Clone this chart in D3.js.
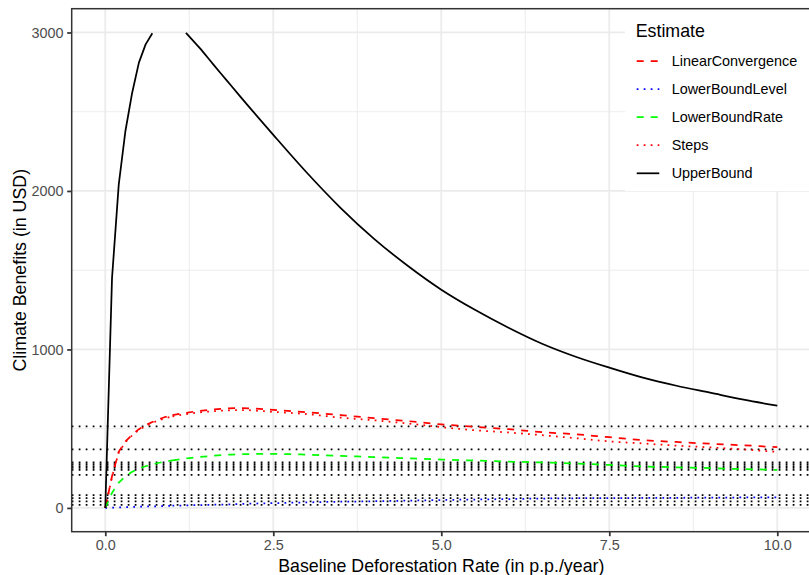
<!DOCTYPE html>
<html>
<head>
<meta charset="utf-8">
<script src="https://cdn.jsdelivr.net/npm/d3@7"></script>
<style>
  html, body { margin: 0; padding: 0; background: #fff; }
  svg { display: block; font-family: "Liberation Sans", Arial, Helvetica, sans-serif; }
</style>
</head>
<body>
<svg id="chart" width="809" height="575"></svg>
<script>
// Baseline deforestation rate grid (p.p./year)
const rates = [0, 0.1, 0.2, 0.3, 0.4, 0.5, 0.6, 0.7, 0.8, 0.9, 1.0,
               1.2, 1.4, 1.6, 1.8, 2.0,
               2.5, 3.0, 3.5, 4.0, 4.5, 5.0, 5.5, 6.0, 6.5, 7.0, 7.5, 8.0, 8.5, 9.0, 9.5, 10.0];

// Climate benefits per estimate (USD); null = beyond the 3000 cap
const linearConvergence = [0, 200, 355, 420, 462, 497, 522, 542, 560, 575, 585,
                           600, 612, 621, 627, 630,
                           619, 604, 586, 566, 548, 527, 512, 497, 478, 465, 446, 428, 416, 405, 395, 383];
const lowerBoundLevel = [0, 2, 3, 5, 6, 8, 9, 10, 11, 12, 14,
                         16, 18, 20, 22, 25,
                         30, 35, 39, 42, 46, 50, 53, 56, 59, 61, 62, 63, 64, 65, 66, 67];
const lowerBoundRate = [0, 95, 160, 200, 228, 248, 263, 275, 285, 293, 300,
                        312, 321, 329, 335, 339,
                        341, 336, 328, 321, 313, 305, 299, 292, 287, 280, 271, 262, 256, 251, 245, 240];
const steps = [0, 195, 350, 415, 458, 492, 517, 537, 553, 567, 577,
               592, 603, 610, 615, 618,
               606, 592, 570, 553, 533, 510, 490, 476, 459, 440, 420, 407, 393, 382, 369, 353];
const upperBound = [0, 1450, 2040, 2380, 2620, 2810, 2925, 2995, null, null, null,
                    2998, 2904, 2802, 2701, 2600,
                    2354, 2115, 1894, 1698, 1528, 1377, 1250, 1137, 1036, 954, 885, 822, 771, 727, 683, 645];

// Reference levels drawn as dotted horizontal lines
const referenceLevels = [514, 370, 288, 276, 264, 252, 240, 208, 81, 62, 41, 20];

const xTicks = [0, 2.5, 5, 7.5, 10];
const xMinor = [1.25, 3.75, 6.25, 8.75];
const yTicks = [0, 1000, 2000, 3000];
const yMinor = [500, 1500, 2500];

const seriesNames = ["LinearConvergence", "LowerBoundLevel", "LowerBoundRate", "Steps", "UpperBound"];
const seriesValues = [linearConvergence, lowerBoundLevel, lowerBoundRate, steps, upperBound];
const seriesColors = ["#FF0000", "#0000FF", "#00FF00", "#FF0000", "#000000"];
const seriesDash = ["7,7", "1.75,5.25", "7,7", "1.75,5.25", null];

const svg = d3.select("#chart");
const panel = { left: 71.7, top: 8.7, right: 810.9, bottom: 531.7 };

const x = d3.scaleLinear().domain([-0.5, 10.5]).range([panel.left, panel.right]);
const y = d3.scaleLinear().domain([-150, 3150]).range([panel.bottom, panel.top]);

svg.append("defs").append("clipPath").attr("id", "panel-clip")
  .append("rect")
  .attr("x", panel.left).attr("y", panel.top)
  .attr("width", panel.right - panel.left).attr("height", panel.bottom - panel.top);

// Panel background and grid
svg.append("rect")
  .attr("x", panel.left).attr("y", panel.top)
  .attr("width", panel.right - panel.left).attr("height", panel.bottom - panel.top)
  .attr("fill", "#fff");

const grid = svg.append("g");
grid.selectAll(".vminor").data(xMinor).join("line")
  .attr("x1", d => x(d)).attr("x2", d => x(d))
  .attr("y1", panel.top).attr("y2", panel.bottom)
  .attr("stroke", "#EBEBEB").attr("stroke-width", 0.9);
grid.selectAll(".hminor").data(yMinor).join("line")
  .attr("y1", d => y(d)).attr("y2", d => y(d))
  .attr("x1", panel.left).attr("x2", panel.right)
  .attr("stroke", "#EBEBEB").attr("stroke-width", 0.9);
grid.selectAll(".vmajor").data(xTicks).join("line")
  .attr("x1", d => x(d)).attr("x2", d => x(d))
  .attr("y1", panel.top).attr("y2", panel.bottom)
  .attr("stroke", "#EBEBEB").attr("stroke-width", 1.75);
grid.selectAll(".hmajor").data(yTicks).join("line")
  .attr("y1", d => y(d)).attr("y2", d => y(d))
  .attr("x1", panel.left).attr("x2", panel.right)
  .attr("stroke", "#EBEBEB").attr("stroke-width", 1.75);

const plot = svg.append("g").attr("clip-path", "url(#panel-clip)");

// Dotted reference levels
plot.selectAll(".ref").data(referenceLevels).join("line")
  .attr("x1", panel.left).attr("x2", panel.right)
  .attr("y1", d => y(d)).attr("y2", d => y(d))
  .attr("stroke", "#000").attr("stroke-width", 1.75)
  .attr("stroke-dasharray", "1.75,5.25");

// Estimate curves: straight segments on the fine part of the grid,
// smooth interpolation on the coarser part
const fineLine = d3.line()
  .defined(d => d[1] != null)
  .x(d => x(d[0]))
  .y(d => y(d[1]));
const coarseLine = d3.line()
  .defined(d => d[1] != null)
  .x(d => x(d[0]))
  .y(d => y(d[1]))
  .curve(d3.curveMonotoneX);

seriesValues.forEach((vals, i) => {
  const pts = rates.map((r, j) => [r, vals[j]]);
  const d = fineLine(pts.filter(p => p[0] <= 1.0)) + coarseLine(pts.filter(p => p[0] >= 1.0));
  plot.append("path")
    .attr("d", d)
    .attr("fill", "none")
    .attr("stroke", seriesColors[i])
    .attr("stroke-width", 1.75)
    .attr("stroke-linejoin", "round")
    .attr("stroke-dasharray", seriesDash[i]);
});

// Axes
const xAxis = svg.append("g")
  .attr("transform", `translate(0,${panel.bottom})`)
  .call(d3.axisBottom(x).tickValues(xTicks).tickFormat(d3.format(".1f"))
    .tickSize(4.5).tickPadding(3.6));
const yAxis = svg.append("g")
  .attr("transform", `translate(${panel.left},0)`)
  .call(d3.axisLeft(y).tickValues(yTicks).tickFormat(d3.format("d"))
    .tickSize(4.5).tickPadding(3.6));
[xAxis, yAxis].forEach(a => {
  a.select(".domain").remove();
  a.selectAll(".tick line").attr("stroke", "#333333").attr("stroke-width", 1.75);
  a.selectAll(".tick text").attr("fill", "#4D4D4D")
    .style("font-size", "14.4px").style("font-family", "Liberation Sans, Arial, sans-serif");
});

// Legend (inside the panel, top-right)
const legendItems = seriesNames.map((name, i) => ({ name, color: seriesColors[i], dash: seriesDash[i] }));
const legend = svg.append("g");
legend.append("rect")
  .attr("x", 625).attr("y", panel.top)
  .attr("width", panel.right - 625).attr("height", 191 - panel.top)
  .attr("fill", "#fff");
legend.append("text")
  .attr("x", 635.7).attr("y", 37)
  .attr("fill", "#000")
  .style("font-size", "17.8px")
  .text("Estimate");
const rowY = d3.scalePoint().domain(seriesNames).range([61, 173.3]);
const rows = legend.selectAll(".row").data(legendItems).join("g")
  .attr("transform", d => `translate(0,${rowY(d.name)})`);
rows.append("line")
  .attr("x1", 636.7).attr("x2", 659.3).attr("y1", 0).attr("y2", 0)
  .attr("stroke", d => d.color).attr("stroke-width", 1.75)
  .attr("stroke-dasharray", d => d.dash);
rows.append("text")
  .attr("x", 671.7).attr("y", 0).attr("dy", "0.35em")
  .attr("fill", "#000")
  .style("font-size", "14.4px")
  .text(d => d.name);

// Panel border
svg.append("rect")
  .attr("x", panel.left).attr("y", panel.top)
  .attr("width", panel.right - panel.left).attr("height", panel.bottom - panel.top)
  .attr("fill", "none").attr("stroke", "#333333").attr("stroke-width", 1.5);

// Axis titles
svg.append("text")
  .attr("x", (panel.left + panel.right) / 2).attr("y", 572)
  .attr("text-anchor", "middle").attr("fill", "#000")
  .style("font-size", "17.8px")
  .text("Baseline Deforestation Rate (in p.p./year)");
svg.append("text")
  .attr("transform", `translate(26,${(panel.top + panel.bottom) / 2}) rotate(-90)`)
  .attr("text-anchor", "middle").attr("fill", "#000")
  .style("font-size", "17.8px")
  .text("Climate Benefits (in USD)");
</script>
</body>
</html>
